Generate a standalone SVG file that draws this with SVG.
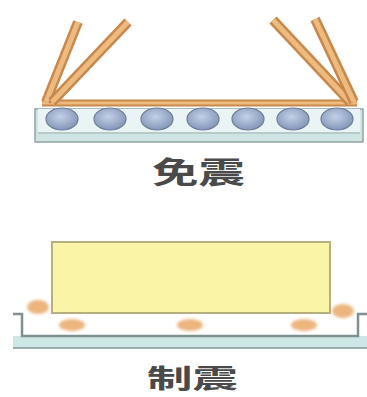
<svg xmlns="http://www.w3.org/2000/svg" width="367" height="397" viewBox="0 0 367 397">
  <defs>
    <radialGradient id="ballFill" cx="0.45" cy="0.4" r="0.65">
      <stop offset="0" stop-color="#C3D1E8"/>
      <stop offset="1" stop-color="#7E92B4"/>
    </radialGradient>
    <filter id="soft" x="-30%" y="-30%" width="160%" height="160%">
      <feGaussianBlur stdDeviation="1.6"/>
    </filter>
    <filter id="slight" x="-10%" y="-10%" width="120%" height="120%">
      <feGaussianBlur stdDeviation="0.6"/>
    </filter>
  </defs>
  <style>
    .barEdge { stroke: #C8884C; stroke-width: 10; stroke-linecap: butt; fill: none; }
    .barCore { stroke: #EDBB80; stroke-width: 5; stroke-linecap: butt; fill: none; }
    .ball { fill: url(#ballFill); stroke: #6D7E9A; stroke-width: 1.2; }
    .label { font-family: "Noto Sans CJK SC", "Noto Sans CJK JP", sans-serif; font-weight: 700; fill: #4A4A4A; text-anchor: middle; }
    .damper { fill: #E9A868; opacity: 0.85; }
  </style>

  <!-- Base isolation: frame on ball bearings -->
  <g id="isolation" filter="url(#slight)">
    <!-- base plate with ball channel -->
    <rect x="35" y="109" width="328" height="33" fill="#CFE5E3" stroke="#8FA5A3" stroke-width="1.5"/>
    <rect x="38" y="109" width="322" height="23" fill="#EAF4F4"/>
    <line x1="38" y1="133" x2="360" y2="133" stroke="#9FB3B2" stroke-width="1.2"/>
    <!-- bearings -->
    <ellipse class="ball" cx="62" cy="119" rx="16" ry="11"/>
    <ellipse class="ball" cx="110" cy="119" rx="16" ry="11"/>
    <ellipse class="ball" cx="157" cy="119" rx="16" ry="11"/>
    <ellipse class="ball" cx="203" cy="119" rx="16" ry="11"/>
    <ellipse class="ball" cx="248" cy="119" rx="16" ry="11"/>
    <ellipse class="ball" cx="293" cy="119" rx="16" ry="11"/>
    <ellipse class="ball" cx="337" cy="119" rx="16" ry="11"/>
    <!-- frame -->
    <line class="barEdge" x1="42" y1="103" x2="357" y2="103" style="stroke-width:7"/>
    <line class="barCore" x1="42" y1="103" x2="357" y2="103" style="stroke-width:3"/>
    <line class="barEdge" x1="46" y1="102" x2="78" y2="22"/>
    <line class="barCore" x1="46" y1="102" x2="78" y2="22"/>
    <line class="barEdge" x1="52" y1="102" x2="128" y2="22"/>
    <line class="barCore" x1="52" y1="102" x2="128" y2="22"/>
    <line class="barEdge" x1="350" y1="102" x2="273" y2="20"/>
    <line class="barCore" x1="350" y1="102" x2="273" y2="20"/>
    <line class="barEdge" x1="354" y1="102" x2="315" y2="19"/>
    <line class="barCore" x1="354" y1="102" x2="315" y2="19"/>
  </g>
  <g id="label-isolation">
    <text class="label" font-size="30" transform="translate(198.5,182.5) scale(1.55,1)">免震</text>
  </g>

  <!-- Vibration control: block on dampers in a tray -->
  <g id="control" filter="url(#slight)">
    <rect x="13" y="336" width="354" height="12" fill="#CDE7E6"/>
    <line x1="13" y1="348" x2="367" y2="348" stroke="#7F9494" stroke-width="1.5"/>
    <path d="M13,314 H22 V336 H358 V314 H367" fill="none" stroke="#7F9090" stroke-width="2.5"/>
    <rect x="52" y="242" width="278" height="71" fill="#FAF4A6" stroke="#B7AE80" stroke-width="2"/>
  </g>
  <g id="dampers" filter="url(#soft)">
    <ellipse class="damper" cx="38" cy="307" rx="11" ry="7"/>
    <ellipse class="damper" cx="343" cy="311" rx="11" ry="7"/>
    <ellipse class="damper" cx="72" cy="325" rx="13" ry="6"/>
    <ellipse class="damper" cx="190" cy="325" rx="13" ry="6"/>
    <ellipse class="damper" cx="304" cy="325" rx="13" ry="6"/>
  </g>
  <g id="label-control">
    <text class="label" font-size="26" transform="translate(192.5,388) scale(1.75,1)">制震</text>
  </g>
</svg>
